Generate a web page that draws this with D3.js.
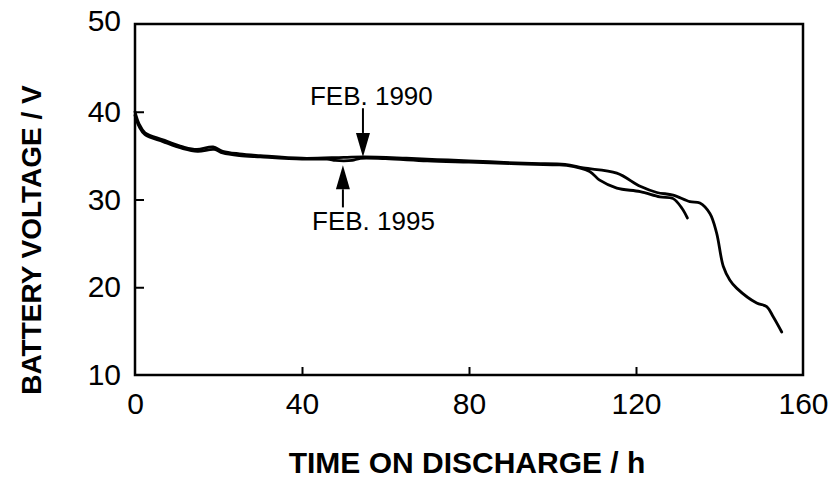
<!DOCTYPE html>
<html>
<head>
<meta charset="utf-8">
<script src="https://cdn.jsdelivr.net/npm/d3@7"></script>
<style>
  body { margin: 0; background: #fff; }
  svg text { font-family: "Liberation Sans", Arial, sans-serif; fill: #000; }
</style>
</head>
<body>
<svg id="chart" width="833" height="481"></svg>
<script>
// hours on discharge vs battery voltage, two test runs
var run1990 = [[0, 40.0], [1, 38.6], [2.4, 37.6], [6.7, 36.8], [11.5, 36.0], [14.8, 35.7],
  [18.7, 36.0], [21, 35.5], [25, 35.2], [30, 35.0], [40, 34.7], [50, 34.8], [55, 34.85],
  [65, 34.7], [75, 34.5], [85, 34.3], [95, 34.1], [103, 34.0], [107.4, 33.6], [115.4, 33.0],
  [121, 31.5], [125, 30.8], [128.9, 30.5], [132.9, 29.75], [135.3, 29.6], [137.7, 28.4],
  [139.3, 26.2], [140.9, 22.4], [142.5, 20.8], [144.1, 19.9], [148.9, 18.2], [151.3, 17.8],
  [152.9, 16.6], [154.9, 14.9]];

var run1995 = [[0, 39.6], [1, 38.3], [2.4, 37.4], [6.7, 36.6], [11.5, 35.8], [15, 35.5],
  [19, 35.7], [21, 35.3], [25, 35.0], [30, 34.85], [40, 34.6], [46, 34.6], [48, 34.45],
  [50, 34.4], [52, 34.45], [54, 34.7], [60, 34.65], [70, 34.4], [80, 34.25], [90, 34.1],
  [100, 33.95], [103.4, 33.9], [108.9, 33.2], [111.3, 32.2], [115.4, 31.3], [121, 30.9],
  [125.7, 30.3], [128.9, 30.1], [131, 29.0], [132.3, 27.9]];

var xTicks = [0, 40, 80, 120, 160];
var yTicks = [10, 20, 30, 40, 50];

// label text, label anchor (h, V), arrow tail and tip (h, V)
var notes = [
  { text: "FEB. 1990", at: [41.9, 40.8], from: [54.6, 40.4], to: [54.6, 34.85] },
  { text: "FEB. 1995", at: [42.4, 26.5], from: [49.8, 29.1], to: [49.8, 33.9] }
];

var svg = d3.select("#chart");

var x = d3.scaleLinear().domain([0, 160]).range([135, 803]),
    y = d3.scaleLinear().domain([10, 50]).range([375, 24]);

// frame
svg.append("rect")
    .attr("x", x(0)).attr("y", y(50))
    .attr("width", x(160) - x(0)).attr("height", y(10) - y(50))
    .attr("fill", "none").attr("stroke", "#000").attr("stroke-width", 2.5);

// inward ticks
var xAxis = d3.axisBottom(x).tickValues(xTicks).tickSize(-8).tickPadding(10);
var gx = svg.append("g")
    .attr("transform", "translate(0," + y(10) + ")")
    .call(xAxis);
gx.select(".domain").remove();
gx.selectAll(".tick line").attr("stroke", "#000").attr("stroke-width", 2)
    .filter(function(d) { return d === 0 || d === 160; }).remove();
gx.selectAll(".tick text").attr("font-size", 30).attr("dy", "0.71em")
    .attr("y", 18).style("font-family", "'Liberation Sans', Arial, sans-serif");

var yAxis = d3.axisLeft(y).tickValues(yTicks).tickSize(-9).tickPadding(14);
var gy = svg.append("g")
    .attr("transform", "translate(" + x(0) + ",0)")
    .call(yAxis);
gy.select(".domain").remove();
gy.selectAll(".tick line").attr("stroke", "#000").attr("stroke-width", 2)
    .filter(function(d) { return d === 10 || d === 50; }).remove();
gy.selectAll(".tick text").attr("font-size", 30)
    .style("font-family", "'Liberation Sans', Arial, sans-serif");
gy.selectAll(".tick").filter(function(d) { return d === 50; })
    .select("text").attr("dy", "0.2em");

// curves
var line = d3.line()
    .x(function(d) { return x(d[0]); })
    .y(function(d) { return y(d[1]); })
    .curve(d3.curveCatmullRom.alpha(0.5));

[run1990, run1995].forEach(function(run) {
  svg.append("path")
      .datum(run)
      .attr("d", line)
      .attr("fill", "none")
      .attr("stroke", "#000")
      .attr("stroke-width", 2.8)
      .attr("stroke-linejoin", "round")
      .attr("stroke-linecap", "round");
});

// annotations
notes.forEach(function(n) {
  svg.append("text")
      .attr("x", x(n.at[0])).attr("y", y(n.at[1]))
      .attr("font-size", 26)
      .text(n.text);

  var x0 = x(n.from[0]), y0 = y(n.from[1]), y1 = y(n.to[1]);
  var dir = y1 > y0 ? 1 : -1, head = 24, half = 7;
  svg.append("line")
      .attr("x1", x0).attr("y1", y0)
      .attr("x2", x0).attr("y2", y1 - dir * head)
      .attr("stroke", "#000").attr("stroke-width", 2);
  svg.append("path")
      .attr("d", "M" + (x0 - half) + "," + (y1 - dir * head) +
                 "L" + (x0 + half) + "," + (y1 - dir * head) +
                 "L" + x0 + "," + y1 + "Z")
      .attr("fill", "#000");
});

// axis titles
svg.append("text")
    .attr("x", 467).attr("y", 473)
    .attr("text-anchor", "middle")
    .attr("font-size", 30).attr("font-weight", "bold")
    .text("TIME ON DISCHARGE / h");

svg.append("text")
    .attr("transform", "translate(41,240) rotate(-90)")
    .attr("text-anchor", "middle")
    .attr("font-size", 28).attr("font-weight", "bold")
    .text("BATTERY VOLTAGE / V");
</script>
</body>
</html>
